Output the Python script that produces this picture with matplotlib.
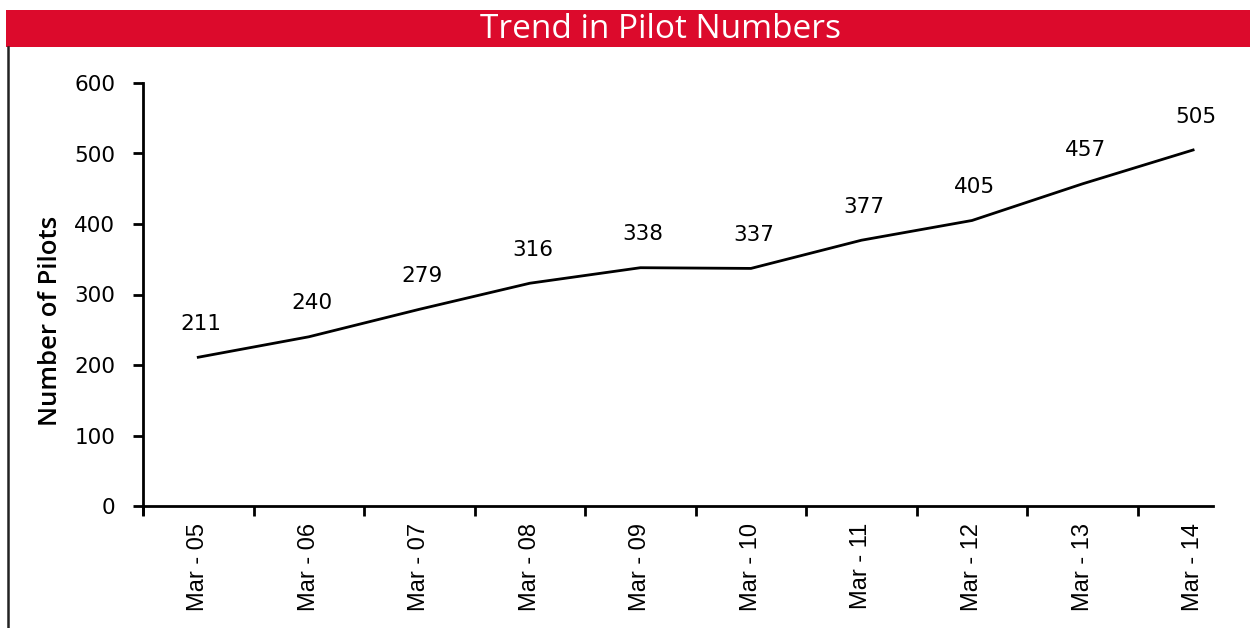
import matplotlib
matplotlib.use('Agg')
import matplotlib.pyplot as plt
from matplotlib.patches import Rectangle
from matplotlib.lines import Line2D
import numpy as np

# Data
years = ['Mar - 05', 'Mar - 06', 'Mar - 07', 'Mar - 08', 'Mar - 09',
         'Mar - 10', 'Mar - 11', 'Mar - 12', 'Mar - 13', 'Mar - 14']
pilots = [211, 240, 279, 316, 338, 337, 377, 405, 457, 505]
y_ticks = [0, 100, 200, 300, 400, 500, 600]

title = 'Trend in Pilot Numbers'
y_label = 'Number of Pilots'

RED = '#DC0A2C'
NUM_FONT = ['DejaVu Sans']
CAT_FONT = ['Liberation Sans', 'DejaVu Sans']

fig = plt.figure(figsize=(12.5, 6.28), dpi=100)
W, H = 1250, 628

# red title band and left frame line
fig.patches.append(Rectangle((6 / W, 1 - 47 / H), 1 - 6 / W, 37 / H,
                             transform=fig.transFigure, facecolor=RED,
                             edgecolor='none', zorder=0))
fig.lines.append(Line2D([8 / W, 8 / W], [0, 1 - 47 / H], transform=fig.transFigure,
                        color='#222222', linewidth=1.8))
fig.text(660 / W, 1 - 29 / H, title, color='white', fontsize=24,
         family=['Open Sans', 'DejaVu Sans'], fontweight='medium',
         ha='center', va='center')

ax = fig.add_axes([143 / W, 1 - 506 / H, (1213 - 143) / W, (506 - 83) / H])

x = np.arange(len(years))
ax.plot(x, pilots, color='black', linewidth=2.0, solid_joinstyle='round')
for xi, v in zip(x, pilots):
    ax.annotate(str(v), (xi, v), xytext=(2, 24), textcoords='offset points',
                ha='center', va='center', fontsize=15.5, family=NUM_FONT)

ax.set_xlim(-0.5, 9.18)
ax.set_ylim(0, 600)

ax.spines['top'].set_visible(False)
ax.spines['right'].set_visible(False)
for s in ['left', 'bottom']:
    ax.spines[s].set_linewidth(2)
ax.spines['left'].set_bounds(-12, 600)

ax.set_yticks(y_ticks)
ax.set_yticklabels([str(t) for t in y_ticks], family=NUM_FONT, fontsize=15.5)
ax.tick_params(axis='y', length=7, width=2, pad=13)

ax.set_xticks(x)
ax.set_xticklabels(years, rotation=90, family=CAT_FONT, fontsize=17)
ax.tick_params(axis='x', which='major', length=0, pad=12)
ax.set_xticks(np.arange(-0.5, len(years) - 1), minor=True)
ax.tick_params(axis='x', which='minor', length=7, width=2)

ax.set_ylabel(y_label, fontsize=18.5, family=['Open Sans', 'DejaVu Sans'],
              fontweight='semibold')
ax.yaxis.set_label_coords(-0.075, 0.437)

fig.savefig('out.png', dpi=100)
